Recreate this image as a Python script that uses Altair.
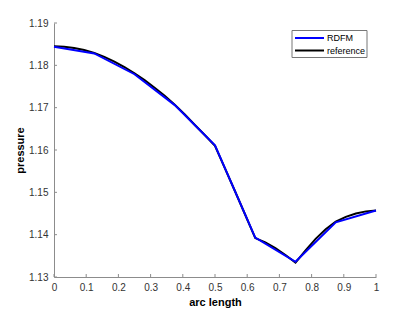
import altair as alt
import pandas as pd

# RDFM (coarse, piecewise linear)
rdfm_x = [0, 0.125, 0.25, 0.375, 0.5, 0.625, 0.75, 0.875, 1.0]
rdfm_y = [1.1844, 1.1828, 1.1779, 1.1706, 1.1611, 1.1393, 1.1336, 1.1429, 1.1457]

# reference (finer)
ref_x = [0, 0.03125, 0.0625, 0.09375, 0.125, 0.15625, 0.1875, 0.21875, 0.25,
         0.28125, 0.3125, 0.34375, 0.375, 0.40625, 0.4375, 0.46875, 0.5,
         0.53125, 0.5625, 0.59375, 0.625, 0.65625, 0.6875, 0.71875, 0.75,
         0.78125, 0.8125, 0.84375, 0.875, 0.90625, 0.9375, 0.96875, 1.0]
ref_y = [1.1845, 1.1844, 1.1841, 1.1836, 1.1829, 1.1820, 1.1809, 1.1796, 1.1781,
         1.1765, 1.1747, 1.1728, 1.1707, 1.1684, 1.1659, 1.1635, 1.1610,
         1.1556, 1.1502, 1.1447, 1.1392, 1.1382, 1.1368, 1.1352, 1.1334,
         1.1363, 1.1390, 1.1413, 1.1431, 1.1442, 1.1450, 1.1455, 1.1457]

x_ticks = [0, 0.1, 0.2, 0.3, 0.4, 0.5, 0.6, 0.7, 0.8, 0.9, 1.0]
y_ticks = [1.13, 1.14, 1.15, 1.16, 1.17, 1.18, 1.19]

series_names = ["RDFM", "reference"]
series_colors = ["#0000ff", "#000000"]

ref_df = pd.DataFrame({"x": ref_x, "y": ref_y, "s": "reference"})
rdfm_df = pd.DataFrame({"x": rdfm_x, "y": rdfm_y, "s": "RDFM"})

W, H = 322, 254
FONT = "Liberation Sans"
AX = "#8c8c8c"

xs = alt.Scale(domain=[0, 1], nice=False)
ys = alt.Scale(domain=[1.13, 1.19], nice=False, zero=False)
cs = alt.Scale(domain=series_names, range=series_colors)

xax = alt.Axis(values=x_ticks, format="~g", tickSize=0, labelPadding=5,
               domainColor=AX, labelColor="#333", labelFont=FONT,
               labelFontSize=10, titleFont=FONT, titleFontSize=11,
               titleFontWeight="bold", titleColor="#000", titlePadding=4,
               grid=False, labelFlush=False, labelOverlap=False)
yax = alt.Axis(values=y_ticks, format=".2f", tickSize=0, labelPadding=6,
               domainColor=AX, labelColor="#333", labelFont=FONT,
               labelFontSize=10, titleFont=FONT, titleFontSize=11,
               titleFontWeight="bold", titleColor="#000", titlePadding=3,
               grid=False, labelOverlap=False)

def X(field):
    return alt.X(field, scale=xs, title="arc length", axis=xax)

def Y(field):
    return alt.Y(field, scale=ys, title="pressure", axis=yax)

ref_line = alt.Chart(ref_df).mark_line(strokeWidth=2).encode(
    x=X("x:Q"), y=Y("y:Q"),
    color=alt.Color("s:N", scale=cs, legend=None),
)
rdfm_line = alt.Chart(rdfm_df).mark_line(strokeWidth=2).encode(
    x=X("x:Q"), y=Y("y:Q"),
    color=alt.Color("s:N", scale=cs, legend=None),
)

xt = alt.Chart(pd.DataFrame({"t": x_ticks})).mark_rule(color=AX, strokeWidth=1).encode(
    x=X("t:Q"), y=alt.value(H), y2=alt.value(H - 3))
yt = alt.Chart(pd.DataFrame({"t": y_ticks})).mark_rule(color=AX, strokeWidth=1).encode(
    y=Y("t:Q"), x=alt.value(0), x2=alt.value(3))

# custom legend (box + one line/label per series)
leg_box = alt.Chart(pd.DataFrame({"a": [0]})).mark_rect(
    fill="#fff", stroke="#777", strokeWidth=1).encode(
    x=alt.value(238), x2=alt.value(313), y=alt.value(7.5), y2=alt.value(34.5))
leg_layers = [leg_box]
for i, (name, col) in enumerate(zip(series_names, series_colors)):
    d = pd.DataFrame({"s": [name]})
    yy = 15 + 12.5 * i
    leg_layers.append(alt.Chart(d).mark_rule(strokeWidth=2, color=col).encode(
        x=alt.value(241), x2=alt.value(270), y=alt.value(yy)))
    leg_layers.append(alt.Chart(d).mark_text(
        align="left", baseline="middle", font=FONT, fontSize=9, color="#000").encode(
        x=alt.value(273), y=alt.value(yy), text="s:N"))

chart = alt.layer(ref_line, rdfm_line, xt, yt, *leg_layers).properties(
    width=W, height=H,
    autosize=alt.AutoSizeParams(type="none"),
    padding={"left": 46, "top": 15, "right": 30, "bottom": 40},
).configure_view(stroke=None).configure_axis(domainWidth=1)

chart.save("out.html", embed_options={"renderer": "svg", "actions": False})
